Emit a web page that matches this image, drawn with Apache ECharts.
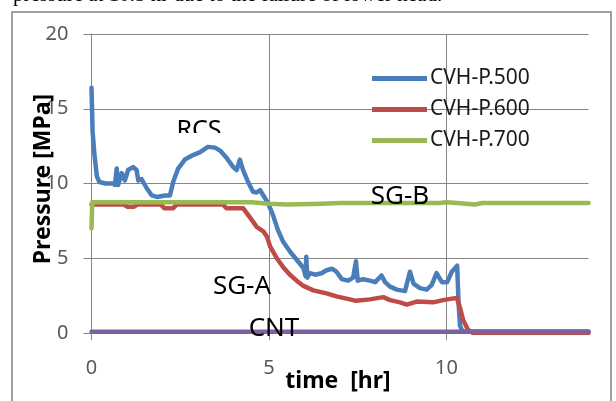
<!DOCTYPE html>
<html><head><meta charset="utf-8">
<script src="https://cdn.jsdelivr.net/npm/echarts@6/dist/echarts.min.js"></script>
<style>html,body{margin:0;padding:0;background:#fff}#c{width:616px;height:401px}</style>
</head><body><div id="c"></div>
<script>
// ---- data (time [hr], pressure [MPa]) ----
const seriesNames = ['CVH-P.500', 'CVH-P.600', 'CVH-P.700', 'CNT'];
const blueT = [0,0.03,0.08,0.15,0.22,0.4,0.6,0.66,0.71,0.75,0.85,0.94,1.03,1.17,1.27,1.32,1.41,1.55,1.7,1.84,2.07,2.21,2.3,2.44,2.63,2.86,3.06,3.28,3.48,3.62,3.81,3.99,4.09,4.18,4.27,4.41,4.55,4.65,4.75,4.84,4.97,5.11,5.25,5.4,5.59,5.78,5.97,6.03,6.05,6.08,6.15,6.3,6.48,6.62,6.77,6.9,7.05,7.23,7.37,7.45,7.5,7.65,7.84,7.99,8.17,8.27,8.41,8.6,8.83,8.97,9.07,9.25,9.44,9.58,9.72,9.87,10.02,10.15,10.3,10.34,10.38,10.45,14];
const blueP = [16.4,13.5,12.0,10.5,10.1,10.0,10.0,9.9,11.0,9.9,10.7,10.2,10.9,11.1,10.9,10.2,10.3,9.7,9.2,9.1,9.2,9.2,10.1,11.0,11.6,11.9,12.1,12.45,12.4,12.2,11.7,11.1,10.9,11.6,10.9,10.1,9.45,9.4,9.55,9.2,8.7,7.9,6.9,6.1,5.45,4.9,4.35,3.8,5.1,3.7,4.0,3.9,4.0,4.2,4.3,4.1,3.6,3.5,3.7,4.8,3.5,3.6,3.5,3.4,3.85,3.4,3.1,2.9,2.8,4.1,3.3,3.0,2.9,3.2,4.0,3.4,3.4,4.1,4.5,2.0,0.5,0.1,0.1];
const redT = [0,0.9,1.0,1.2,1.3,1.95,2.05,2.3,2.4,3.7,3.8,4.27,4.41,4.55,4.65,4.84,4.95,5.03,5.22,5.4,5.59,5.78,5.97,6.25,6.62,6.9,7.28,7.45,7.84,8.22,8.41,8.69,8.88,9.16,9.63,9.9,10.29,10.38,10.47,10.61,10.75,14];
const redP = [8.6,8.6,8.45,8.45,8.6,8.6,8.35,8.35,8.6,8.6,8.35,8.35,7.9,7.45,7.1,6.8,6.4,5.8,5.0,4.4,3.9,3.5,3.15,2.85,2.65,2.45,2.25,2.15,2.25,2.4,2.2,2.05,1.9,2.1,2.05,2.2,2.35,1.7,0.85,0.2,0.0,0.0];
const greenT = [0,0.02,4.5,5.0,5.5,6.5,7.0,9.8,10.0,10.3,10.8,11.0,14];
const greenP = [7.0,8.75,8.75,8.65,8.6,8.65,8.7,8.7,8.75,8.7,8.6,8.7,8.7];
const cntT = [0,14];
const cntP = [0.08,0.08];
const yTicks = [0,5,10,15,20];
const xTicks = [0,5,10];
const annotations = ['RCS','SG-B','SG-A','CNT'];
const topCaption = 'pressure at 10.5 hr due to the failure of lower head.';
const xTitle = 'time  [hr]';
const yTitle = 'Pressure [MPa]';

const zip = (t, p) => t.map((v, i) => [v, p[i]]);
const colors = ['#4A7EBB', '#BE4B48', '#98B954', '#7D60A0'];
const datasets = [zip(blueT, blueP), zip(redT, redP), zip(greenT, greenP), zip(cntT, cntP)];

const FONT = '"Noto Sans", sans-serif';
const chart = echarts.init(document.getElementById('c'), null, {renderer: 'canvas'});
chart.setOption({
  animation: false,
  backgroundColor: '#fff',
  grid: {left: 91.5, right: 27.5, top: 34, bottom: 68, containLabel: false},
  xAxis: {
    type: 'value', min: 0, max: 14, interval: 5,
    axisLine: {show: true, lineStyle: {color: '#868686', width: 1}},
    axisTick: {show: true, length: 7, lineStyle: {color: '#868686'}},
    axisLabel: {margin: 25, fontSize: 20, color: '#595959', fontFamily: FONT,
      showMaxLabel: false,
      formatter: v => xTicks.includes(v) ? String(v) : ''},
    splitLine: {show: true, showMaxLine: false, lineStyle: {color: '#868686', width: 1}}
  },
  yAxis: {
    type: 'value', min: 0, max: 20, interval: 5,
    axisLine: {show: true, lineStyle: {color: '#868686', width: 1}},
    axisTick: {show: true, length: 8, lineStyle: {color: '#868686'}},
    axisLabel: {margin: 23, fontSize: 20, color: '#595959', fontFamily: FONT,
      formatter: v => yTicks.includes(v) ? String(v) : ''},
    splitLine: {show: true, lineStyle: {color: '#868686', width: 1}}
  },
  legend: {
    data: seriesNames.slice(0, 3),
    orient: 'vertical', left: 372, top: 68, padding: 0,
    icon: 'rect', itemWidth: 55, itemHeight: 5, itemGap: 10,
    textStyle: {fontSize: 21, color: '#1a1a1a', fontFamily: FONT, lineHeight: 20, padding: [0, 0, 0, -2]}
  },
  series: datasets.map((d, i) => ({
    name: seriesNames[i], type: 'line', data: d, showSymbol: false, symbol: 'none',
    lineStyle: {width: 4.5, color: colors[i], join: 'round', cap: 'round'}, itemStyle: {color: colors[i]},
    z: 2 + i, clip: true
  })),
  graphic: [
    {type: 'rect', shape: {x: 12, y: 12, width: 599, height: 420}, style: {fill: 'none', stroke: '#a0a0a0', lineWidth: 2}, z: 0, silent: true},
    {type: 'text', x: 13, y: 6, style: {text: topCaption, font: '21px "Liberation Serif", serif', fill: '#000', textVerticalAlign: 'bottom'}, z: 10},
    {type: 'text', x: 43, y: 179, rotation: Math.PI / 2, style: {text: yTitle, font: 'bold 23px ' + FONT, fill: '#000', textAlign: 'center', textVerticalAlign: 'middle'}, z: 10},
    {type: 'text', x: 338, y: 381, style: {text: xTitle, font: 'bold 23px ' + FONT, fill: '#000', textAlign: 'center', textVerticalAlign: 'middle'}, z: 10},
    {type: 'text', x: 199, y: 131, style: {text: annotations[0], font: '25px ' + FONT, fill: '#000', textAlign: 'center', textVerticalAlign: 'middle'}, z: 10},
    {type: 'rect', shape: {x: 170, y: 133, width: 60, height: 9}, style: {fill: '#fff'}, z: 11},
    {type: 'text', x: 400, y: 197, style: {text: annotations[1], font: '26px ' + FONT, fill: '#000', textAlign: 'center', textVerticalAlign: 'middle'}, z: 10},
    {type: 'text', x: 242, y: 287, style: {text: annotations[2], font: '26px ' + FONT, fill: '#000', textAlign: 'center', textVerticalAlign: 'middle'}, z: 10},
    {type: 'text', x: 274, y: 329, style: {text: annotations[3], font: '26px ' + FONT, fill: '#000', textAlign: 'center', textVerticalAlign: 'middle'}, z: 10}
  ]
});
</script>
</body></html>
